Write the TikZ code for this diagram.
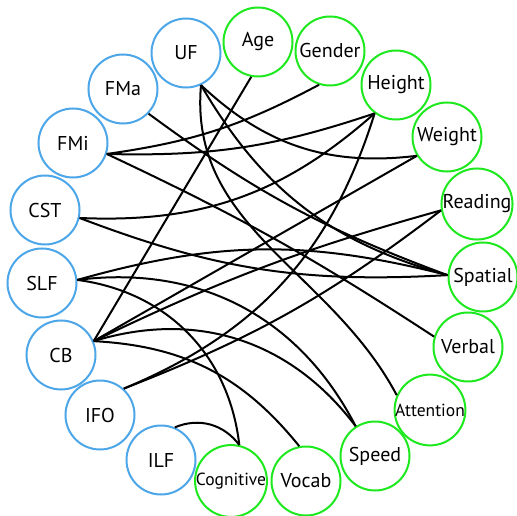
\documentclass[tikz,border=0pt]{standalone}
\usepackage{fontspec}
\setmainfont{PT Sans}
\usepackage{tikz}

\definecolor{tractblue}{RGB}{76,166,232}
\definecolor{traitgreen}{RGB}{30,232,30}

\begin{document}
\begin{tikzpicture}[x=1pt, y=1pt,
    main/.style = {draw, circle, line width=2pt, minimum size=69pt, inner sep=0pt,
                   fill=white, font=\fontsize{20}{23}\selectfont},
    tract/.style = {main, draw=tractblue},
    trait/.style = {main, draw=traitgreen},
    small/.style = {font=\fontsize{17.5}{20}\selectfont},
    link/.style = {line width=2pt}]
    \useasboundingbox (0,0) rectangle (517,-516);

    % tracts
    \node[tract] (UF) at (186,-53) {UF};
    \node[tract] (FMa) at (123,-89) {FMa};
    \node[tract] (FMi) at (73,-143) {FMi};
    \node[tract] (CST) at (45,-210) {CST};
    \node[tract] (SLF) at (42,-283) {SLF};
    \node[tract] (CB) at (61,-355) {CB};
    \node[tract] (IFO) at (100,-415) {IFO};
    \node[tract] (ILF) at (161,-460) {ILF};

    % traits
    \node[trait, small] (Cognitive) at (231,-481) {Cognitive};
    \node[trait] (Vocab) at (306,-481) {Vocab};
    \node[trait] (Speed) at (375,-456) {Speed};
    \node[trait, small] (Attention) at (430,-410) {Attention};
    \node[trait] (Verbal) at (468,-347) {Verbal};
    \node[trait] (Spatial) at (483,-277) {Spatial};
    \node[trait] (Reading) at (477,-204) {Reading};
    \node[trait] (Weight) at (447,-137) {Weight};
    \node[trait] (Height) at (396,-85) {Height};
    \node[trait] (Gender) at (330,-51) {Gender};
    \node[trait] (Age) at (258,-42) {Age};

    \draw[link] (UF.-65) to[bend right=25] (Weight.-148);
    \draw[link] (UF.-65) to[bend right=22] (Spatial.177);
    \draw[link] (UF.-65) to[out=-95, in=118] (Attention.156);
    \draw[link] (FMa.-44) to[bend right=8] (Spatial.177);
    \draw[link] (FMi.-18) to[bend right=10] (Gender.-108);
    \draw[link] (FMi.-18) to[bend right=10] (Height.-127);
    \draw[link] (FMi.-18) to[bend left=4] (Verbal.163);
    \draw[link] (CST.-13) to[bend right=22] (Height.-127);
    \draw[link] (CST.-13) to[bend right=12] (Spatial.177);
    \draw[link] (SLF.5) to[bend left=15] (Spatial.177);
    \draw[link] (SLF.5) to[bend left=35] (Speed.123);
    \draw[link] (SLF.5) to[bend left=38] (Cognitive.77);
    \draw[link] (CB.23) -- (Age.-101);
    \draw[link] (CB.23) -- (Weight.-148);
    \draw[link] (CB.23) to[bend left=5] (Reading.-170);
    \draw[link] (CB.23) to[bend left=35] (Speed.123);
    \draw[link] (CB.23) to[bend left=24] (Vocab.101);
    \draw[link] (IFO.48) to[bend right=25] (Height.-127);
    \draw[link] (IFO.48) to[bend right=8] (Reading.-170);
    \draw[link] (ILF.67) to[bend left=38] (Cognitive.77);
\end{tikzpicture}
\end{document}
